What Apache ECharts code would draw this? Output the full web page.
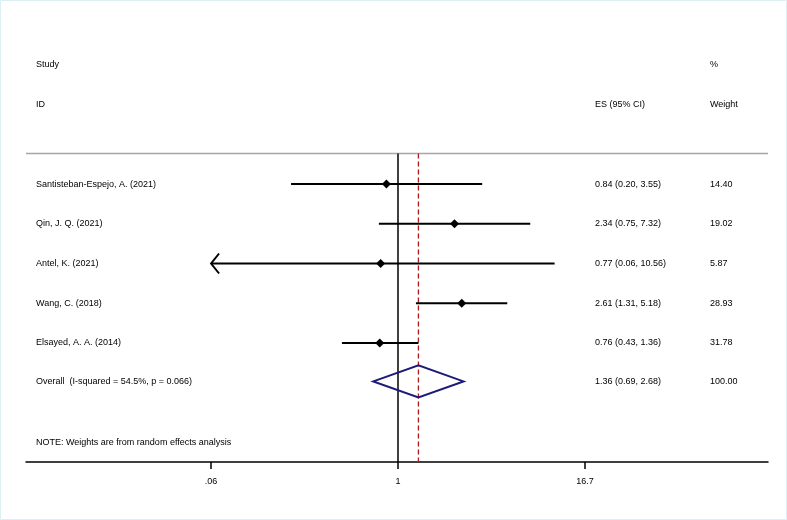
<!DOCTYPE html>
<html><head><meta charset="utf-8">
<script src="https://cdn.jsdelivr.net/npm/echarts@6/dist/echarts.min.js"></script>
<style>html,body{margin:0;padding:0;background:#fff}#c{width:787px;height:520px}</style>
</head><body><div id="c"></div>
<script>
// ---- data ----
const studies = ["Santisteban-Espejo, A. (2021)", "Qin, J. Q. (2021)", "Antel, K. (2021)", "Wang, C. (2018)", "Elsayed, A. A. (2014)"];
const es = [0.84, 2.34, 0.77, 2.61, 0.76];
const lower = [0.20, 0.75, 0.06, 1.31, 0.43];
const upper = [3.55, 7.32, 10.56, 5.18, 1.36];
const esText = ["0.84 (0.20, 3.55)", "2.34 (0.75, 7.32)", "0.77 (0.06, 10.56)", "2.61 (1.31, 5.18)", "0.76 (0.43, 1.36)"];
const weights = ["14.40", "19.02", "5.87", "28.93", "31.78"];
const overallLabel = "Overall  (I-squared = 54.5%, p = 0.066)";
const overallES = 1.36, overallLo = 0.69, overallHi = 2.68;
const overallText = "1.36 (0.69, 2.68)";
const overallWeight = "100.00";
const noteText = "NOTE: Weights are from random effects analysis";
const tickValues = [0.06, 1, 16.7];
const tickLabels = [".06", "1", "16.7"];

// ---- layout ----
const L = {
  left: 26, right: 768, top: 65, axisY: 462,
  xMinLn: -5.599, xMaxLn: 5.569,
  rowStudy: 0, rowID: 1, rowRule: 2.23, rowFirst: 3, rowOverall: 7.97, rowNote: 9.5, rowMax: 10,
  colLabel: 36, colES: 595, colW: 710,
  font: '9px "Liberation Sans", Arial, sans-serif'
};
const ln = Math.log;
const clipLo = tickValues[0];

const chart = echarts.init(document.getElementById('c'), null, {renderer: 'canvas'});

function textItem(x, row, txt) { return [x, row, txt]; }
const texts = [
  textItem(L.colLabel, L.rowStudy, "Study"),
  textItem(L.colLabel, L.rowID, "ID"),
  textItem(L.colES, L.rowID, "ES (95% CI)"),
  textItem(L.colW, L.rowStudy, "%"),
  textItem(L.colW, L.rowID, "Weight"),
  textItem(L.colLabel, L.rowOverall, overallLabel),
  textItem(L.colES, L.rowOverall, overallText),
  textItem(L.colW, L.rowOverall, overallWeight),
  textItem(L.colLabel, L.rowNote, noteText)
];
studies.forEach((s, i) => {
  texts.push(textItem(L.colLabel, L.rowFirst + i, s));
  texts.push(textItem(L.colES, L.rowFirst + i, esText[i]));
  texts.push(textItem(L.colW, L.rowFirst + i, weights[i]));
});

const ciData = studies.map((s, i) => [ln(lower[i]), ln(upper[i]), ln(es[i]), L.rowFirst + i, lower[i] <= clipLo ? 1 : 0]);

const option = {
  animation: false,
  backgroundColor: '#fff',
  grid: {left: L.left, right: 787 - L.right, top: L.top, bottom: 520 - L.axisY, containLabel: false},
  xAxis: [{
    type: 'value', min: L.xMinLn, max: L.xMaxLn,
    axisLine: {show: true, onZero: false, lineStyle: {color: '#000', width: 1.5}},
    axisTick: {show: true, customValues: tickValues.map(ln), length: 7, lineStyle: {color: '#000', width: 1.5}},
    axisLabel: {show: true, customValues: tickValues.map(ln), margin: 15, fontSize: 9, color: '#000',
      fontFamily: '"Liberation Sans", Arial, sans-serif',
      formatter: v => { let b = 0, d = 1e9; tickValues.forEach((t, i) => { const dd = Math.abs(ln(t) - v); if (dd < d) { d = dd; b = i; } }); return tickLabels[b]; }},
    splitLine: {show: false}
  }, {
    type: 'value', min: L.left, max: L.right, show: false
  }],
  yAxis: {type: 'value', inverse: true, min: 0, max: L.rowMax, show: false},
  series: [
    { // reference lines
      type: 'custom', xAxisIndex: 0, coordinateSystem: 'cartesian2d', silent: true,
      data: [[0]],
      renderItem: (params, api) => {
        const a = api.coord([L.xMinLn, L.rowRule]), b = api.coord([L.xMaxLn, L.rowRule]);
        const v0 = api.coord([0, L.rowRule]), v1 = api.coord([0, L.rowMax]);
        const r0 = api.coord([ln(overallES), L.rowRule]), r1 = api.coord([ln(overallES), L.rowMax]);
        return {type: 'group', children: [
          {type: 'line', shape: {x1: a[0], y1: a[1], x2: b[0], y2: b[1]}, style: {stroke: '#a6a6a6', lineWidth: 1.5}},
          {type: 'line', shape: {x1: v0[0], y1: v0[1], x2: v1[0], y2: v1[1]}, style: {stroke: '#000', lineWidth: 1.5}},
          {type: 'line', shape: {x1: r0[0], y1: r0[1], x2: r1[0], y2: r1[1]}, style: {stroke: '#b01c1c', lineWidth: 1.3, lineDash: [5, 3]}}
        ]};
      }
    },
    { // CIs
      type: 'custom', xAxisIndex: 0, coordinateSystem: 'cartesian2d', silent: true,
      data: ciData,
      renderItem: (params, api) => {
        const row = api.value(3);
        const p0 = api.coord([api.value(0), row]), p1 = api.coord([api.value(1), row]), pm = api.coord([api.value(2), row]);
        const ch = [
          {type: 'line', shape: {x1: p0[0], y1: p0[1], x2: p1[0], y2: p1[1]}, style: {stroke: '#000', lineWidth: 2}},
          {type: 'polygon', shape: {points: [[pm[0] - 4.5, pm[1]], [pm[0], pm[1] - 4.5], [pm[0] + 4.5, pm[1]], [pm[0], pm[1] + 4.5]]}, style: {fill: '#000'}}
        ];
        if (api.value(4)) {
          ch.push({type: 'polyline', shape: {points: [[p0[0] + 8, p0[1] - 10], [p0[0], p0[1]], [p0[0] + 8, p0[1] + 10]]}, style: {stroke: '#000', lineWidth: 2, fill: null}});
        }
        return {type: 'group', children: ch};
      }
    },
    { // overall diamond
      type: 'custom', xAxisIndex: 0, coordinateSystem: 'cartesian2d', silent: true,
      data: [[ln(overallLo), ln(overallES), ln(overallHi), L.rowOverall]],
      renderItem: (params, api) => {
        const row = api.value(3);
        const a = api.coord([api.value(0), row]), m = api.coord([api.value(1), row]), b = api.coord([api.value(2), row]);
        return {type: 'polygon', shape: {points: [[a[0], a[1]], [m[0], m[1] - 16], [b[0], b[1]], [m[0], m[1] + 16]]},
          style: {stroke: '#1b1b78', lineWidth: 2, fill: null}};
      }
    },
    { // texts
      type: 'custom', xAxisIndex: 1, coordinateSystem: 'cartesian2d', silent: true,
      data: texts,
      renderItem: (params, api) => {
        const p = api.coord([api.value(0), api.value(1)]);
        return {type: 'text', x: p[0], y: p[1], style: {text: texts[params.dataIndex][2], font: L.font, fill: '#000', textAlign: 'left', textVerticalAlign: 'middle'}};
      }
    }
  ],
  graphic: [{type: 'rect', shape: {x: 0.5, y: 0.5, width: 786, height: 519}, style: {stroke: '#dceff3', fill: null, lineWidth: 1}, silent: true}]
};
chart.setOption(option);
</script></body></html>
